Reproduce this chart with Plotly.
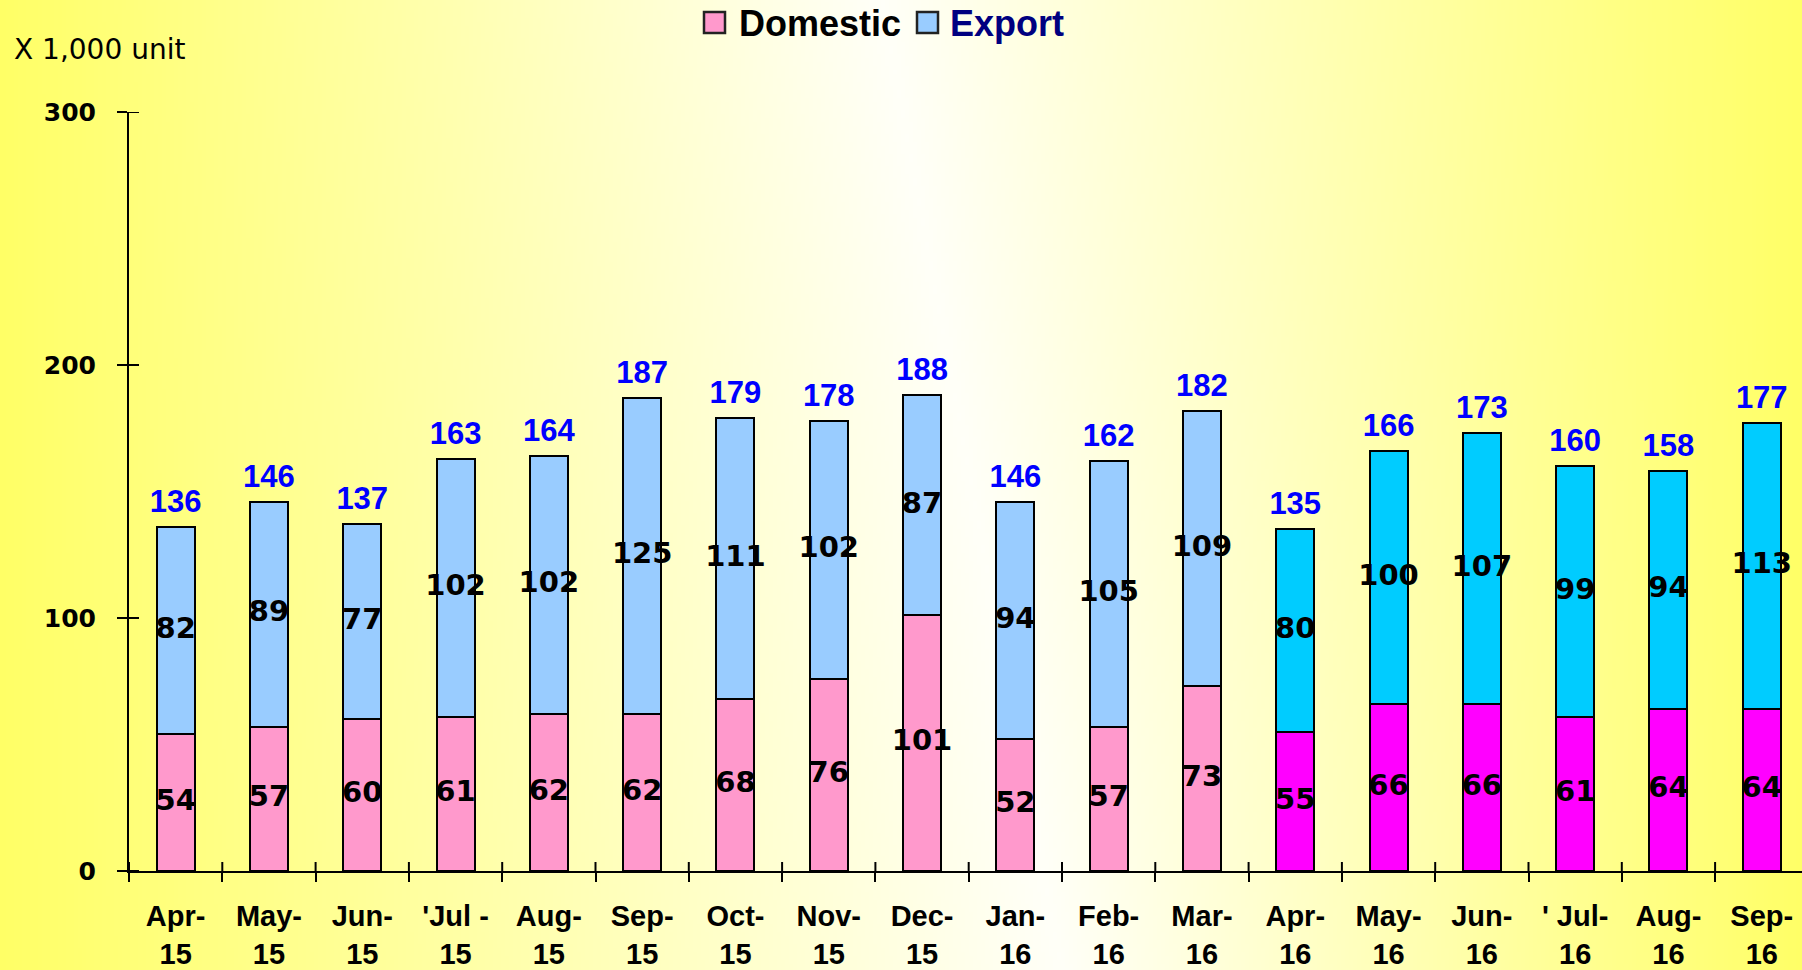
import base64
import struct
import zlib

import plotly.graph_objects as go

# ---------------- data ----------------
categories = ["Apr-<br>15", "May-<br>15", "Jun-<br>15", "'Jul -<br>15", "Aug-<br>15", "Sep-<br>15",
              "Oct-<br>15", "Nov-<br>15", "Dec-<br>15", "Jan-<br>16", "Feb-<br>16", "Mar-<br>16",
              "Apr-<br>16", "May-<br>16", "Jun-<br>16", "' Jul-<br>16", "Aug-<br>16", "Sep-<br>16"]
domestic = [54, 57, 60, 61, 62, 62, 68, 76, 101, 52, 57, 73, 55, 66, 66, 61, 64, 64]
export = [82, 89, 77, 102, 102, 125, 111, 102, 87, 94, 105, 109, 80, 100, 107, 99, 94, 113]
totals = [136, 146, 137, 163, 164, 187, 179, 178, 188, 146, 162, 182, 135, 166, 173, 160, 158, 177]
fiscal_year = ["FY15"] * 12 + ["FY16"] * 6
y_ticks = [0, 100, 200, 300]

# ---------------- styles ----------------
DOM_COLOR = {"FY15": "#FF99CC", "FY16": "#FF00FF"}
EXP_COLOR = {"FY15": "#99CCFF", "FY16": "#00CCFF"}
W, H = 1802, 970
ML, MR, MT, MB = 129, 0, 112, 99
PW, PH = W - ML - MR, H - MT - MB


def px_x(px):
    return (px - ML) / PW


def px_y(py):
    return (H - MB - py) / PH


# background gradient (yellow -> white -> yellow, slightly diagonal)
def gradient_png(w=451, h=243):
    raw = bytearray()
    for j in range(h):
        Y = j * H / h
        cx = 880 + 180 * Y / H
        raw.append(0)
        for i in range(w):
            X = i * W / w
            d = X - cx
            t = abs(d) / (cx if d < 0 else (W - cx))
            t = min(1.0, t)
            b = int(round(248 - (248 - 102) * t))
            raw += bytes((255, 255, b))

    def chunk(tag, data):
        c = struct.pack(">I", len(data)) + tag + data
        return c + struct.pack(">I", zlib.crc32(tag + data) & 0xFFFFFFFF)

    png = b"\x89PNG\r\n\x1a\n"
    png += chunk(b"IHDR", struct.pack(">IIBBBBB", w, h, 8, 2, 0, 0, 0))
    png += chunk(b"IDAT", zlib.compress(bytes(raw), 9))
    png += chunk(b"IEND", b"")
    return "data:image/png;base64," + base64.b64encode(png).decode()


fig = go.Figure()

fig.add_trace(go.Bar(
    x=categories, y=domestic, name="Domestic",
    marker=dict(color=[DOM_COLOR[f] for f in fiscal_year], line=dict(color="black", width=2)),
    hoverinfo="skip",
))
fig.add_trace(go.Bar(
    x=categories, y=export, name="Export",
    marker=dict(color=[EXP_COLOR[f] for f in fiscal_year], line=dict(color="black", width=2)),
    hoverinfo="skip",
))

seg_font = dict(family="DejaVu Sans", size=29, color="black", weight="bold")
fig.add_trace(go.Scatter(
    x=categories, y=[d / 2 for d in domestic], mode="text",
    text=[str(v) for v in domestic], textposition="middle center",
    textfont=seg_font, cliponaxis=False, hoverinfo="skip", showlegend=False,
))
fig.add_trace(go.Scatter(
    x=categories, y=[d + e / 2 for d, e in zip(domestic, export)], mode="text",
    text=[str(v) for v in export], textposition="middle center",
    textfont=seg_font, cliponaxis=False, hoverinfo="skip", showlegend=False,
))
fig.add_trace(go.Scatter(
    x=categories, y=totals, mode="markers+text",
    marker=dict(size=10, opacity=0, color="rgba(0,0,0,0)"),
    text=[str(v) for v in totals], textposition="top center",
    textfont=dict(family="Liberation Sans", size=31, color="#0000FF", weight="bold"),
    cliponaxis=False, hoverinfo="skip", showlegend=False,
))

shapes = []
# inner halves of the crossing tick marks
for k in range(len(categories) + 1):
    shapes.append(dict(type="line", xref="x", yref="paper", x0=k - 0.5, x1=k - 0.5,
                       y0=0, y1=9 / PH, line=dict(color="black", width=2)))
for v in y_ticks:
    shapes.append(dict(type="line", xref="paper", yref="y", x0=0, x1=10 / PW,
                       y0=v, y1=v, line=dict(color="black", width=2)))
# legend swatches
shapes.append(dict(type="rect", xref="paper", yref="paper",
                   x0=px_x(704), x1=px_x(725), y0=px_y(33), y1=px_y(12),
                   fillcolor=DOM_COLOR["FY15"], line=dict(color="#222222", width=2.5)))
shapes.append(dict(type="rect", xref="paper", yref="paper",
                   x0=px_x(917), x1=px_x(938), y0=px_y(33), y1=px_y(12),
                   fillcolor=EXP_COLOR["FY15"], line=dict(color="#222222", width=2.5)))

annotations = [
    dict(text="X 1,000 unit", xref="paper", yref="paper", x=px_x(12), y=px_y(49),
         xanchor="left", yanchor="middle", showarrow=False,
         font=dict(family="DejaVu Sans", size=28, color="black")),
    dict(text="Domestic", xref="paper", yref="paper", x=px_x(737), y=px_y(23),
         xanchor="left", yanchor="middle", showarrow=False,
         font=dict(family="Liberation Sans", size=36, color="black", weight="bold")),
    dict(text="Export", xref="paper", yref="paper", x=px_x(948), y=px_y(23),
         xanchor="left", yanchor="middle", showarrow=False,
         font=dict(family="Liberation Sans", size=36, color="#000080", weight="bold")),
]

fig.update_layout(
    width=W, height=H,
    margin=dict(l=ML, r=MR, t=MT, b=MB, pad=0),
    barmode="stack", bargap=0.593,
    showlegend=False,
    paper_bgcolor="#FFFF66", plot_bgcolor="rgba(0,0,0,0)",
    shapes=shapes, annotations=annotations,
    images=[dict(source=gradient_png(), xref="paper", yref="paper",
                 x=-ML / PW, y=1 + MT / PH, sizex=W / PW, sizey=H / PH,
                 xanchor="left", yanchor="top", sizing="stretch", layer="below")],
    xaxis=dict(
        type="category", range=[-0.5, -0.5 + PW / 93.3],
        showline=True, linecolor="black", linewidth=2,
        ticks="outside", ticklen=9, tickwidth=2, tickcolor="black", tickson="boundaries",
        showgrid=False, zeroline=False, ticklabelstandoff=18,
        tickfont=dict(family="Liberation Sans", size=29, color="black", weight="bold"),
    ),
    yaxis=dict(
        range=[0, 300], tickvals=y_ticks,
        showline=True, linecolor="black", linewidth=2,
        ticks="outside", ticklen=10, tickwidth=2, tickcolor="black",
        showgrid=False, zeroline=False, ticklabelstandoff=16,
        tickfont=dict(family="DejaVu Sans", size=25, color="black", weight="bold"),
    ),
)

fig.write_html("out.html", config={"displayModeBar": False},
               post_script="document.body.style.margin='0';document.body.style.overflow='hidden';")
